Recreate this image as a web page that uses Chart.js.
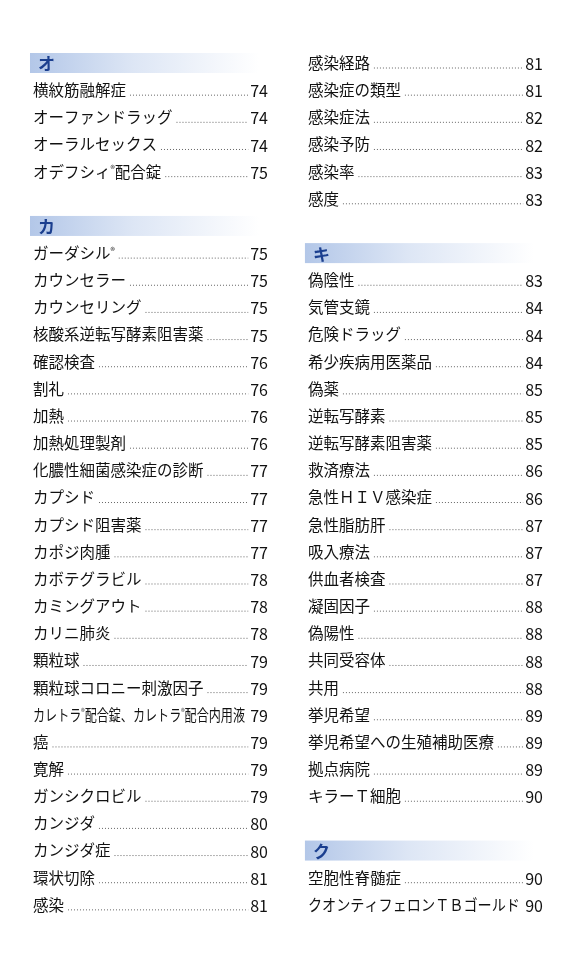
<!DOCTYPE html>
<html><head><meta charset="utf-8">
<script src="https://cdn.jsdelivr.net/npm/chart.js@4"></script>
<style>html,body{margin:0;padding:0;background:#fff}#c{display:block}</style>
</head><body>
<div style="width:576px;height:960px"><canvas id="c"></canvas></div>
<script>
"use strict";

// index entries: [column, row]
const headers = [["オ", 0, 0], ["カ", 0, 6], ["キ", 1, 7], ["ク", 1, 29]];

const leftLabels = ["横紋筋融解症", "オーファンドラッグ", "オーラルセックス", "オデフシィ®配合錠",
  "ガーダシル®", "カウンセラー", "カウンセリング", "核酸系逆転写酵素阻害薬", "確認検査", "割礼", "加熱",
  "加熱処理製剤", "化膿性細菌感染症の診断", "カプシド", "カプシド阻害薬", "カポジ肉腫", "カボテグラビル",
  "カミングアウト", "カリニ肺炎", "顆粒球", "顆粒球コロニー刺激因子", "カレトラ®配合錠、カレトラ®配合内用液",
  "癌", "寛解", "ガンシクロビル", "カンジダ", "カンジダ症", "環状切除", "感染"];
const leftPages = [74, 74, 74, 75, 75, 75, 75, 75, 76, 76, 76, 76, 77, 77, 77, 77, 78, 78, 78, 79, 79, 79,
  79, 79, 79, 80, 80, 81, 81];
const leftRows = [1, 2, 3, 4, 7, 8, 9, 10, 11, 12, 13, 14, 15, 16, 17, 18, 19, 20, 21, 22, 23, 24, 25, 26,
  27, 28, 29, 30, 31];

const rightLabels = ["感染経路", "感染症の類型", "感染症法", "感染予防", "感染率", "感度",
  "偽陰性", "気管支鏡", "危険ドラッグ", "希少疾病用医薬品", "偽薬", "逆転写酵素", "逆転写酵素阻害薬",
  "救済療法", "急性ＨＩＶ感染症", "急性脂肪肝", "吸入療法", "供血者検査", "凝固因子", "偽陽性", "共同受容体",
  "共用", "挙児希望", "挙児希望への生殖補助医療", "拠点病院", "キラーＴ細胞",
  "空胞性脊髄症", "クオンティフェロンＴＢゴールド"];
const rightPages = [81, 81, 82, 82, 83, 83, 83, 84, 84, 84, 85, 85, 85, 86, 86, 87, 87, 87, 88, 88, 88, 88,
  89, 89, 89, 90, 90, 90];
const rightRows = [0, 1, 2, 3, 4, 5, 8, 9, 10, 11, 12, 13, 14, 15, 16, 17, 18, 19, 20, 21, 22, 23, 24, 25,
  26, 27, 30, 31];

const FONT = '"Noto Sans CJK JP", "Noto Sans", sans-serif';
const COL_W = 236;
const SIZE = 15.5;

function entriesOf(col, labels, pages, rows) {
  return labels.map((l, i) => ({x: col, y: rows[i], label: l, page: pages[i]}));
}
const entries = entriesOf(0, leftLabels, leftPages, leftRows)
  .concat(entriesOf(1, rightLabels, rightPages, rightRows));

function drawLabel(ctx, text, x, y, maxW) {
  // draw with small raised ®
  const parts = text.split("®");
  const big = SIZE + "px " + FONT, small = "9px " + FONT;
  let total = 0;
  parts.forEach((p, i) => {
    ctx.font = big;
    total += ctx.measureText(p).width;
    if (i < parts.length - 1) { ctx.font = small; total += ctx.measureText("®").width; }
  });
  const scale = total > maxW ? maxW / total : 1;
  ctx.save();
  ctx.translate(x, y);
  ctx.scale(scale, 1);
  let cx = 0;
  parts.forEach((p, i) => {
    ctx.font = big;
    ctx.fillText(p, cx, 0);
    cx += ctx.measureText(p).width;
    if (i < parts.length - 1) {
      ctx.font = small;
      ctx.fillText("®", cx, -3);
      cx += ctx.measureText("®").width;
    }
  });
  ctx.restore();
  return total * scale;
}

const indexPlugin = {
  id: "indexText",
  afterDraw(chart) {
    const ctx = chart.ctx, xs = chart.scales.x, ys = chart.scales.y;
    ctx.save();
    ctx.textBaseline = "middle";
    headers.forEach(([t, col, row]) => {
      const x = xs.getPixelForValue(col), y = ys.getPixelForValue(row);
      const g = ctx.createLinearGradient(x - 3, 0, x + COL_W - 10, 0);
      g.addColorStop(0, "#b3c7e8");
      g.addColorStop(0.45, "#dde6f5");
      g.addColorStop(1, "#ffffff");
      ctx.fillStyle = g;
      ctx.fillRect(x - 3, y - 10, COL_W - 5, 20);
      ctx.fillStyle = "#1b3f8f";
      ctx.font = "bold 17px " + FONT;
      ctx.textAlign = "left";
      ctx.fillText(t, x + 5, y + 1);
    });
    entries.forEach(e => {
      const x = xs.getPixelForValue(e.x), y = ys.getPixelForValue(e.y);
      const right = x + COL_W - 1;
      ctx.fillStyle = "#111";
      ctx.textAlign = "left";
      const w = drawLabel(ctx, e.label, x, y, COL_W - 24);
      ctx.font = "16px " + FONT;
      ctx.textAlign = "right";
      ctx.fillText(String(e.page), right, y + 1);
      const pw = ctx.measureText(String(e.page)).width;
      const x0 = x + w + 4, x1 = right - pw - 2;
      if (x1 > x0) {
        ctx.strokeStyle = "#666";
        ctx.lineWidth = 1;
        ctx.setLineDash([1, 2]);
        ctx.beginPath();
        ctx.moveTo(x0, y + 5);
        ctx.lineTo(x1, y + 5);
        ctx.stroke();
        ctx.setLineDash([]);
      }
    });
    ctx.restore();
  }
};

new Chart(document.getElementById("c"), {
  type: "scatter",
  data: {datasets: [{data: entries.map(e => ({x: e.x, y: e.y})), pointRadius: 0}]},
  options: {
    responsive: true,
    maintainAspectRatio: false,
    animation: false,
    layout: {padding: 0},
    scales: {
      x: {type: "linear", display: false, min: -0.12, max: 1.975},
      y: {type: "linear", display: false, reverse: true, min: -2.32, max: 33.03}
    },
    plugins: {legend: {display: false}, tooltip: {enabled: false}}
  },
  plugins: [indexPlugin]
});
</script>
</body></html>
